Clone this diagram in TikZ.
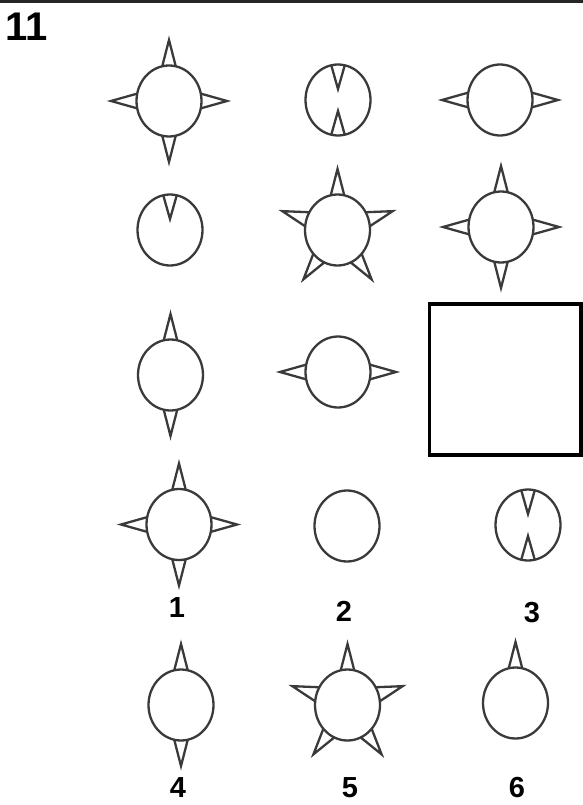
\documentclass[tikz,border=0pt]{standalone}
\usepackage{fontspec}
\setsansfont{Liberation Sans}
\usepackage{tikz}

\definecolor{inkgray}{HTML}{3A3A3A}
\tikzset{
    outline/.style={draw=inkgray, line width=2.3pt, line join=miter},
    number/.style={font=\sffamily\bfseries\fontsize{29}{29}\selectfont, inner sep=0pt},
}
% one figure: a ring with spikes pointing out of it or into it
\newcommand{\ring}{\draw[outline] (0,0) ellipse [x radius=32.5, y radius=35.5];}
\newcommand{\spikeout}[1]{\draw[outline] ({#1-12}:32.5pt and 35.5pt) -- ({#1}:58pt and 61pt) -- ({#1+12}:32.5pt and 35.5pt);}
\newcommand{\spikein}[1]{\draw[outline] ({#1-12}:32.5pt and 35.5pt) -- ({#1}:11pt) -- ({#1+12}:32.5pt and 35.5pt);}

\begin{document}
\begin{tikzpicture}[x=1pt, y=1pt]
    \useasboundingbox (0,0) rectangle (583,-805);

    % rule on top and number of the task
    \draw[line width=2.7pt, black!85] (0,-1.35) -- (583,-1.35);
    \node[number, font=\sffamily\bfseries\fontsize{40}{40}\selectfont] (task) at (27,-27) {11};

    % row 1
    \begin{scope}[shift={(169,-101)}]
        \foreach \a in {0,90,180,270} \spikeout{\a};
        \ring
    \end{scope}
    \begin{scope}[shift={(338,-100)}]
        \spikein{90} \spikein{270}
        \ring
    \end{scope}
    \begin{scope}[shift={(500,-100)}]
        \spikeout{0} \spikeout{180}
        \ring
    \end{scope}

    % row 2
    \begin{scope}[shift={(170,-230)}]
        \spikein{90}
        \ring
    \end{scope}
    \begin{scope}[shift={(337.5,-230)}]
        \foreach \a in {18,90,162,234,306} \spikeout{\a};
        \ring
    \end{scope}
    \begin{scope}[shift={(501,-227)}]
        \foreach \a in {0,90,180,270} \spikeout{\a};
        \ring
    \end{scope}

    % row 3, with the empty box
    \begin{scope}[shift={(170.5,-375)}]
        \spikeout{90} \spikeout{270}
        \ring
    \end{scope}
    \begin{scope}[shift={(338,-372)}]
        \spikeout{0} \spikeout{180}
        \ring
    \end{scope}
    \draw[line width=3.5pt, black] (429.5,-304) rectangle (581,-455);

    % answers 1 to 3
    \begin{scope}[shift={(179,-524.5)}]
        \foreach \a in {0,90,180,270} \spikeout{\a};
        \ring
    \end{scope}
    \begin{scope}[shift={(347,-526)}]
        \ring
    \end{scope}
    \begin{scope}[shift={(528,-525)}]
        \spikein{90} \spikein{270}
        \ring
    \end{scope}
    \node[number] (ans1) at (177,-608) {1};
    \node[number] (ans2) at (344,-611) {2};
    \node[number] (ans3) at (532,-613) {3};

    % answers 4 to 6
    \begin{scope}[shift={(181,-705)}]
        \spikeout{90} \spikeout{270}
        \ring
    \end{scope}
    \begin{scope}[shift={(347.5,-705)}]
        \foreach \a in {18,90,162,234,306} \spikeout{\a};
        \ring
    \end{scope}
    \begin{scope}[shift={(515.5,-703)}]
        \spikeout{90}
        \ring
    \end{scope}
    \node[number] (ans4) at (178,-788) {4};
    \node[number] (ans5) at (350,-788) {5};
    \node[number] (ans6) at (517,-788) {6};
\end{tikzpicture}
\end{document}
